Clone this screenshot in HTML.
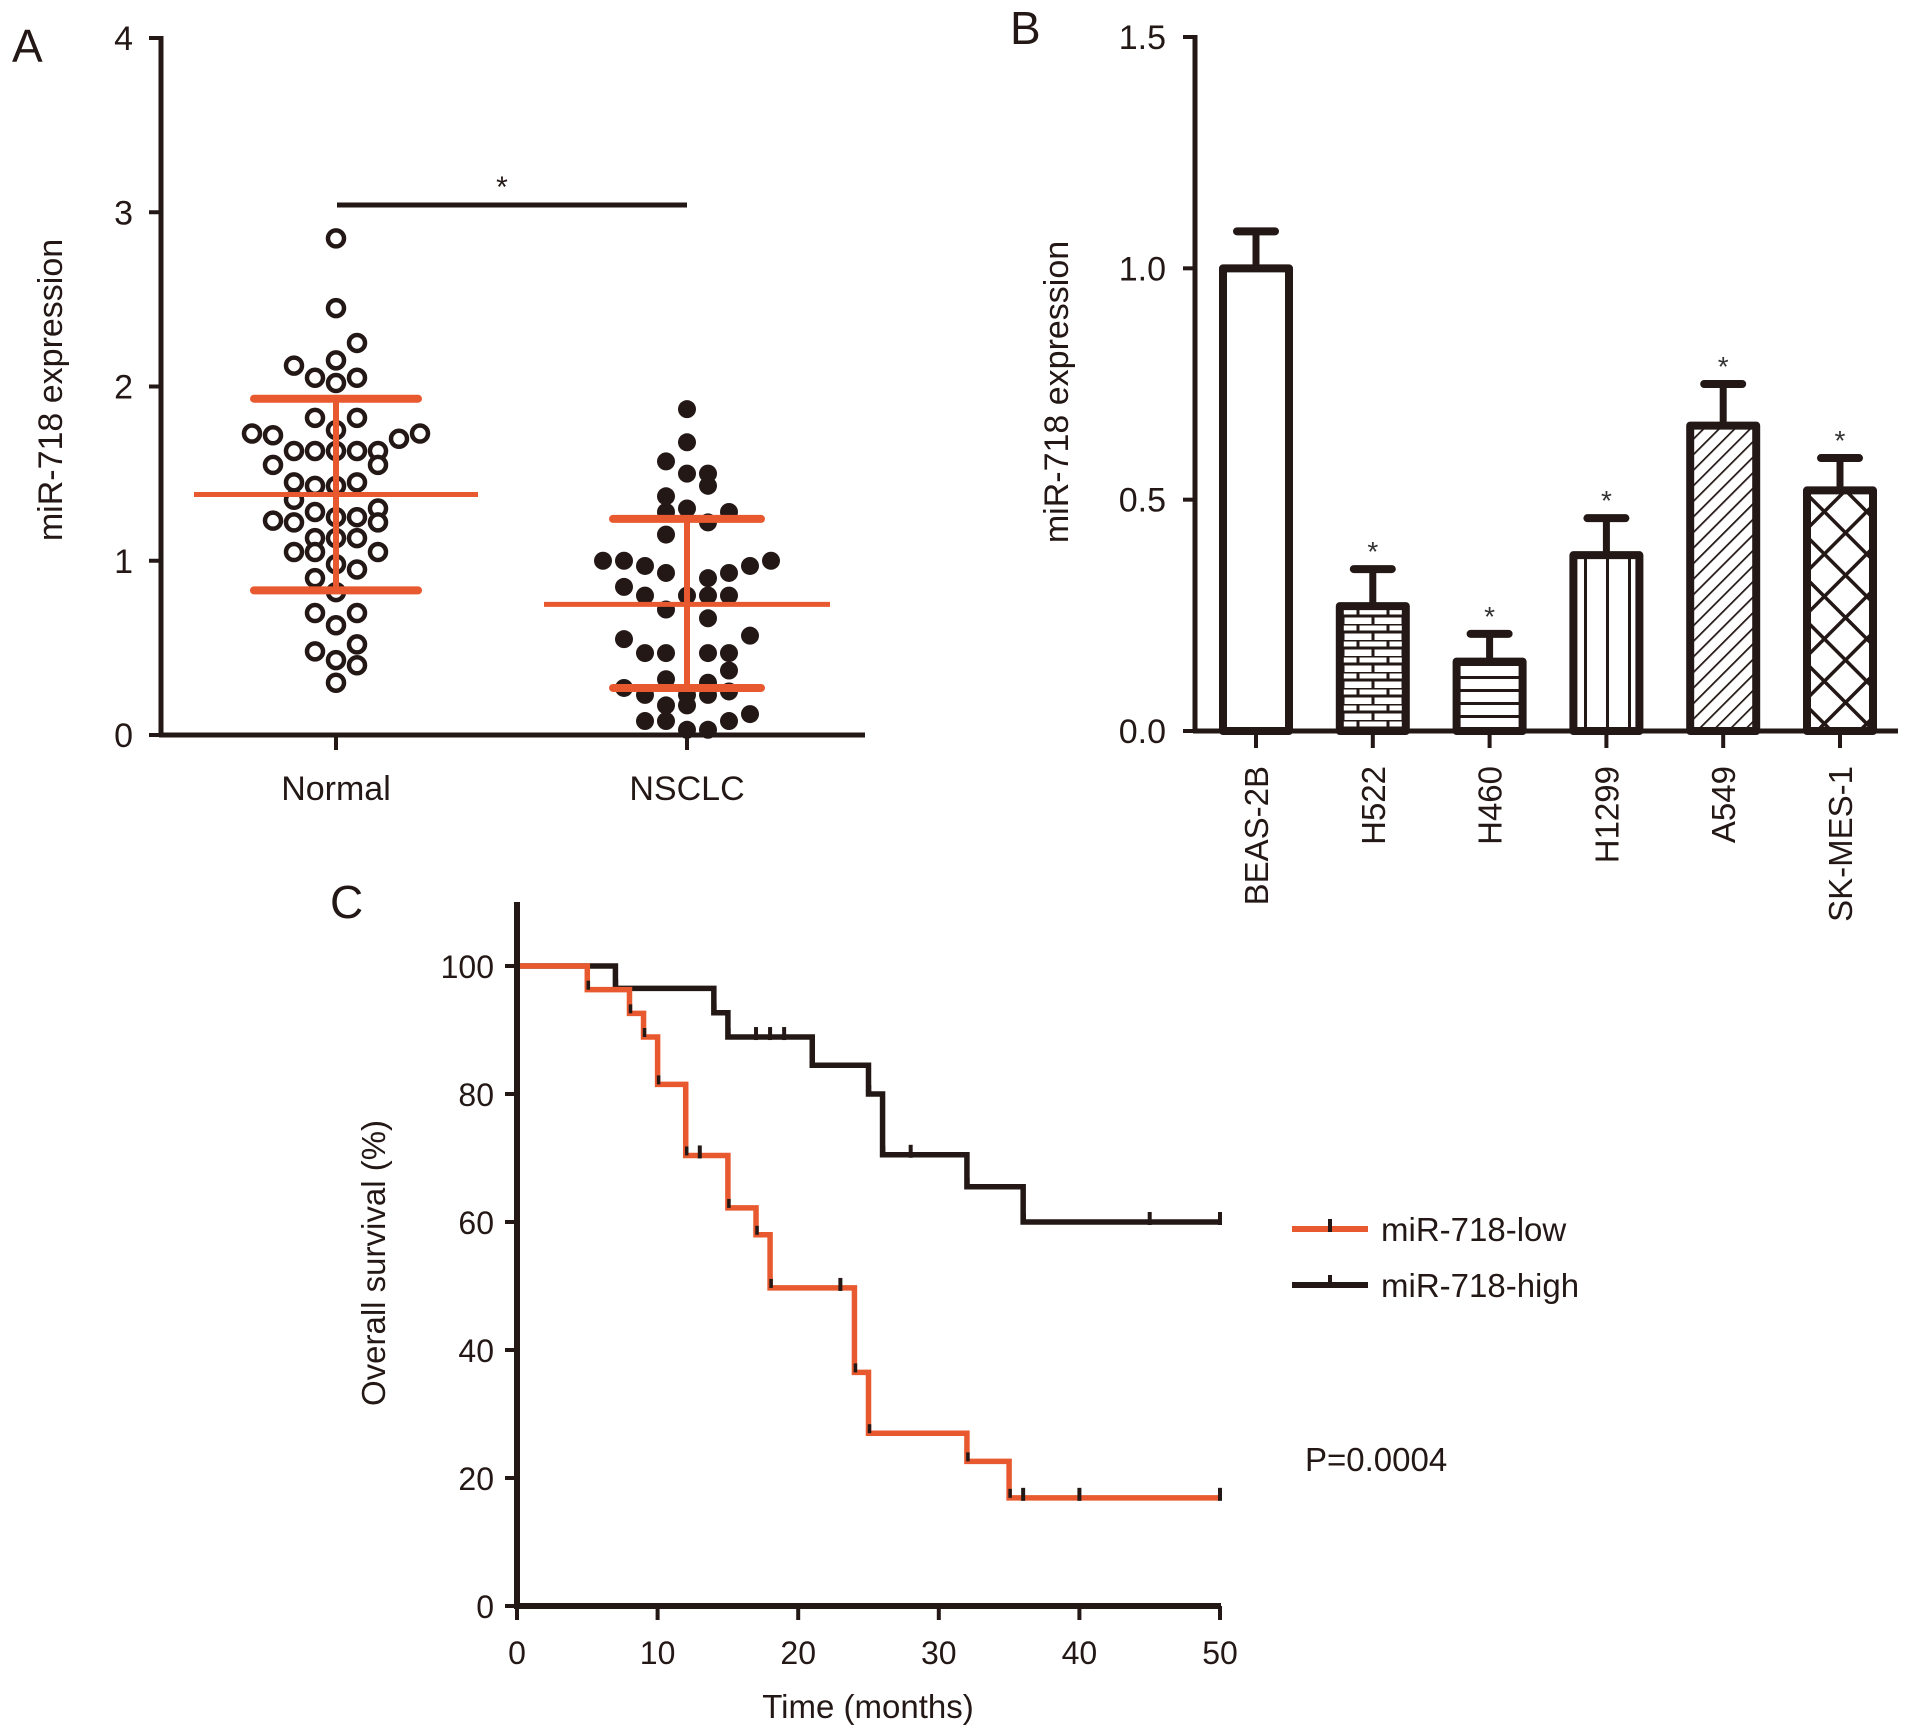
<!DOCTYPE html>
<html><head><meta charset="utf-8"><style>
html,body{margin:0;padding:0;background:#fff;}
svg{display:block;font-family:"Liberation Sans",Arial,sans-serif;}
</style></head><body>
<svg id="fig" width="1913" height="1733" viewBox="0 0 1913 1733" xmlns="http://www.w3.org/2000/svg">
<defs>
<pattern id="pBrick" width="30" height="16" patternUnits="userSpaceOnUse"><rect width="30" height="16" fill="#fff"/><path d="M0 0H30M0 8H30M8 0V8M23 8V16" stroke="#231815" stroke-width="3"/></pattern>
<pattern id="pHoriz" width="10" height="13" patternUnits="userSpaceOnUse"><rect width="10" height="13" fill="#fff"/><path d="M0 1.5H10" stroke="#231815" stroke-width="3"/></pattern>
<pattern id="pVert" width="22" height="10" patternUnits="userSpaceOnUse"><rect width="22" height="10" fill="#fff"/><path d="M1.5 0V10" stroke="#231815" stroke-width="3"/></pattern>
<pattern id="pDiag" width="11" height="11" patternUnits="userSpaceOnUse" patternTransform="rotate(45)"><rect width="11" height="11" fill="#fff"/><path d="M0 0V11" stroke="#231815" stroke-width="3.5"/></pattern>
<pattern id="pCross" width="30" height="30" patternUnits="userSpaceOnUse" patternTransform="rotate(45)"><rect width="30" height="30" fill="#fff"/><path d="M0 0V30M0 0H30" stroke="#231815" stroke-width="7"/></pattern>
</defs>
<g id="panelA"></g>
<g id="panelB"></g>
<g id="panelC"></g>
</svg>
<script>
// ---------- Panel A data ----------
const aGroups = ["Normal","NSCLC"];
const aTicks = [0,1,2,3,4];
const normalCols = [0,0,1,0,-2,-1,1,0,-1,1,0,-4,-3,3,4,-2,-1,0,1,2,-3,2,-2,-1,0,1,-2,2,-1,0,1,-3,-2,2,-1,0,1,-2,-1,2,0,1,-1,0,-1,1,0,1,-1,0,1,0];
const normalVals = [2.85,2.45,2.25,2.15,2.12,2.05,2.05,2.02,1.82,1.82,1.75,1.73,1.72,1.70,1.73,1.63,1.63,1.63,1.63,1.63,1.55,1.55,1.45,1.43,1.43,1.45,1.35,1.30,1.28,1.25,1.25,1.23,1.22,1.22,1.13,1.13,1.13,1.05,1.05,1.05,0.98,0.95,0.90,0.82,0.70,0.70,0.63,0.52,0.48,0.43,0.40,0.30];
const nsclcCols = [0,0,-1,0,1,1,-1,0,-1,2,1,-1,-4,-3,-2,3,4,-1,2,1,-3,-2,0,1,2,-1,1,-3,3,-2,-1,1,2,2,-1,1,-3,-2,0,1,2,-1,0,3,-2,-1,2,0,1];
const nsclcVals = [1.87,1.68,1.57,1.50,1.50,1.43,1.37,1.30,1.28,1.28,1.22,1.15,1.00,1.00,0.97,0.97,1.00,0.93,0.93,0.90,0.85,0.80,0.80,0.80,0.80,0.72,0.67,0.55,0.57,0.47,0.47,0.47,0.47,0.37,0.32,0.30,0.27,0.23,0.23,0.23,0.25,0.17,0.17,0.12,0.08,0.08,0.08,0.03,0.03];
const aMeans = [1.38,0.75];
const aSDhi = [1.93,1.24];
const aSDlo = [0.83,0.27];
// ---------- Panel B data ----------
const bCats = ["BEAS-2B","H522","H460","H1299","A549","SK-MES-1"];
const bVals = [1.0,0.27,0.15,0.38,0.66,0.52];
const bErr = [0.08,0.08,0.06,0.08,0.09,0.07];
const bStar = [false,true,true,true,true,true];
const bTicks = ["0.0","0.5","1.0","1.5"];
const bTickVals = [0,0.5,1.0,1.5];
// ---------- Panel C data ----------
const cXTicks = [0,10,20,30,40,50];
const cYTicks = [0,20,40,60,80,100];
const lowTimes = [0,5,8,9,10,12,15,17,18,24,25,32,35,50];
const lowSurv  = [100,96.3,92.6,88.9,81.5,70.4,62.2,58,49.7,36.5,27,22.6,16.9,16.9];
const lowCens  = [13,23,36,40,50];
const highTimes = [0,7,14,15,21,25,26,32,36,50];
const highSurv  = [100,96.5,92.7,88.9,84.5,80,70.5,65.5,60,60];
const highCens  = [17,18,19,28,45,50];

const NS="http://www.w3.org/2000/svg";
const INK="#231815", OR="#e8592f";
function mk(parent,tag,attrs,text){const e=document.createElementNS(NS,tag);for(const k in attrs)e.setAttribute(k,attrs[k]);if(text!==undefined)e.textContent=text;parent.appendChild(e);return e;}

// ===== Panel A =====
(function(){
const g=document.getElementById('panelA');
const yA=v=>735-(735-38)*v/4;
const cx=[336,687];
const t=mk(g,'text',{x:12,y:62,'font-size':46,fill:INK},'A');

const ya=mk(g,'line',{x1:161,y1:36,x2:161,y2:737,stroke:INK,'stroke-width':5});

const xa=mk(g,'line',{x1:159,y1:735,x2:865,y2:735,stroke:INK,'stroke-width':5});

aTicks.forEach(v=>{
  mk(g,'line',{x1:149,y1:yA(v),x2:161,y2:yA(v),stroke:INK,'stroke-width':4});
  const l=mk(g,'text',{x:133,y:yA(v)+12,'font-size':34,'text-anchor':'end',fill:INK},String(v));
  
});
aGroups.forEach((n,i)=>{
  mk(g,'line',{x1:cx[i],y1:735,x2:cx[i],y2:750,stroke:INK,'stroke-width':4});
  const l=mk(g,'text',{x:cx[i],y:800,'font-size':34,'text-anchor':'middle',fill:INK},n);
  
});
const yl=mk(g,'text',{x:0,y:0,'font-size':34,'text-anchor':'middle',fill:INK,transform:'translate(62,390) rotate(-90)'},'miR-718 expression');

normalVals.forEach((v,i)=>{
  const c=mk(g,'circle',{cx:cx[0]+normalCols[i]*21,cy:yA(v),r:8,fill:'#fff',stroke:INK,'stroke-width':4.5});
  
});
nsclcVals.forEach((v,i)=>{
  const c=mk(g,'circle',{cx:cx[1]+nsclcCols[i]*21,cy:yA(v),r:9,fill:INK});
  
});
const mw=[142,143], sw=[82,74];
aGroups.forEach((n,i)=>{
  const v=mk(g,'line',{x1:cx[i],y1:yA(aSDhi[i]),x2:cx[i],y2:yA(aSDlo[i]),stroke:OR,'stroke-width':6});
  
  const m=mk(g,'line',{x1:cx[i]-mw[i],y1:yA(aMeans[i]),x2:cx[i]+mw[i],y2:yA(aMeans[i]),stroke:OR,'stroke-width':5});
  
  [aSDhi[i],aSDlo[i]].forEach(s=>{
    const c=mk(g,'line',{x1:cx[i]-sw[i],y1:yA(s),x2:cx[i]+sw[i],y2:yA(s),stroke:OR,'stroke-width':8,'stroke-linecap':'round'});
    
  });
});
const sb=mk(g,'line',{x1:337,y1:205,x2:687,y2:205,stroke:INK,'stroke-width':5});

const st=mk(g,'text',{x:502,y:197,'font-size':30,'text-anchor':'middle',fill:INK},'*');

})();

// ===== Panel B =====
(function(){
const g=document.getElementById('panelB');
const yB=v=>731-(731-37)*v/1.5;
const x0=1256, dx=116.8, bw=66;
const fills=['#fff','url(#pBrick)','url(#pHoriz)','url(#pVert)','url(#pDiag)','url(#pCross)'];
const t=mk(g,'text',{x:1010,y:44,'font-size':46,fill:INK},'B');

bTickVals.forEach((v,i)=>{
  mk(g,'line',{x1:1183,y1:yB(v),x2:1195,y2:yB(v),stroke:INK,'stroke-width':4});
  const l=mk(g,'text',{x:1166,y:yB(v)+12,'font-size':34,'text-anchor':'end',fill:INK},bTicks[i]);
  
});
const yl=mk(g,'text',{x:0,y:0,'font-size':34,'text-anchor':'middle',fill:INK,transform:'translate(1068,392) rotate(-90)'},'miR-718 expression');

bCats.forEach((c,i)=>{
  const x=x0+i*dx, top=yB(bVals[i]), et=yB(bVals[i]+bErr[i]);
  const el=mk(g,'line',{x1:x,y1:et,x2:x,y2:top,stroke:INK,'stroke-width':7});
  
  const ec=mk(g,'line',{x1:x-19,y1:et,x2:x+19,y2:et,stroke:INK,'stroke-width':8,'stroke-linecap':'round'});
  
  const r=mk(g,'rect',{x:x-bw/2,y:top,width:bw,height:731-top,fill:fills[i],stroke:INK,'stroke-width':8,'stroke-linejoin':'round'});
  
  if(bStar[i]){const s=mk(g,'text',{x:x,y:et-8,'font-size':28,'text-anchor':'middle',fill:'#333'},'*');
    }
  mk(g,'line',{x1:x,y1:731,x2:x,y2:748,stroke:INK,'stroke-width':4});
  const l=mk(g,'text',{x:0,y:0,'font-size':33,'text-anchor':'end',fill:INK,transform:`translate(${x+12},766) rotate(-90)`},c);
  
});
const ya=mk(g,'line',{x1:1195,y1:35,x2:1195,y2:733,stroke:INK,'stroke-width':5});

const xa=mk(g,'line',{x1:1193,y1:731,x2:1898,y2:731,stroke:INK,'stroke-width':5});

})();

// ===== Panel C =====
(function(){
const g=document.getElementById('panelC');
const xC=t=>517+(1220-517)*t/50;
const yC=v=>1606-(1606-966)*v/100;
const t=mk(g,'text',{x:330,y:918,'font-size':46,fill:INK},'C');

cYTicks.forEach(v=>{
  mk(g,'line',{x1:505,y1:yC(v),x2:517,y2:yC(v),stroke:INK,'stroke-width':4});
  const l=mk(g,'text',{x:494,y:yC(v)+12,'font-size':32,'text-anchor':'end',fill:INK},String(v));
  
});
cXTicks.forEach(v=>{
  mk(g,'line',{x1:xC(v),y1:1606,x2:xC(v),y2:1620,stroke:INK,'stroke-width':4});
  const l=mk(g,'text',{x:xC(v),y:1664,'font-size':32,'text-anchor':'middle',fill:INK},String(v));
  
});
const xt=mk(g,'text',{x:868,y:1718,'font-size':33,'text-anchor':'middle',fill:INK},'Time (months)');

const yt=mk(g,'text',{x:0,y:0,'font-size':33,'text-anchor':'middle',fill:INK,transform:'translate(385,1263) rotate(-90)'},'Overall survival (%)');

function stepPath(ts,ss){let d=`M${xC(ts[0])},${yC(ss[0])}`;for(let i=1;i<ts.length;i++){d+=`H${xC(ts[i])}V${yC(ss[i])}`;}return d;}
function survAt(ts,ss,tt){let s=ss[0];for(let i=0;i<ts.length;i++){if(ts[i]<=tt)s=ss[i];}return s;}
function drawCurve(ts,ss,cens,col,name){
  const p=mk(g,'path',{d:stepPath(ts,ss),fill:'none',stroke:col,'stroke-width':5.5});
  
  cens.forEach(c=>{const y=yC(survAt(ts,ss,c));
    const m=mk(g,'line',{x1:xC(c),y1:y-10,x2:xC(c),y2:y+3,stroke:INK,'stroke-width':4});
    });
  for(let i=1;i<ts.length-1;i++){const m=mk(g,'line',{x1:xC(ts[i])+1,y1:yC(ss[i]),x2:xC(ts[i])+1,y2:yC(ss[i])-9,stroke:INK,'stroke-width':3.5});
    }
}
drawCurve(highTimes,highSurv,highCens,INK,'high');
drawCurve(lowTimes,lowSurv,lowCens,OR,'low');
const ya=mk(g,'line',{x1:517,y1:902,x2:517,y2:1609,stroke:INK,'stroke-width':6});

const xa=mk(g,'line',{x1:514,y1:1606,x2:1221,y2:1606,stroke:INK,'stroke-width':6});

[[OR,'miR-718-low',1229],[INK,'miR-718-high',1285]].forEach(([c,n,y])=>{
  const l=mk(g,'line',{x1:1292,y1:y,x2:1368,y2:y,stroke:c,'stroke-width':6});
  
  mk(g,'line',{x1:1330,y1:y-10,x2:1330,y2:y+3,stroke:INK,'stroke-width':4});
  const t=mk(g,'text',{x:1381,y:y+12,'font-size':33,fill:INK},n);
  
});
const pv=mk(g,'text',{x:1305,y:1471,'font-size':33,fill:INK},'P=0.0004');

})();
</script>
</body></html>
